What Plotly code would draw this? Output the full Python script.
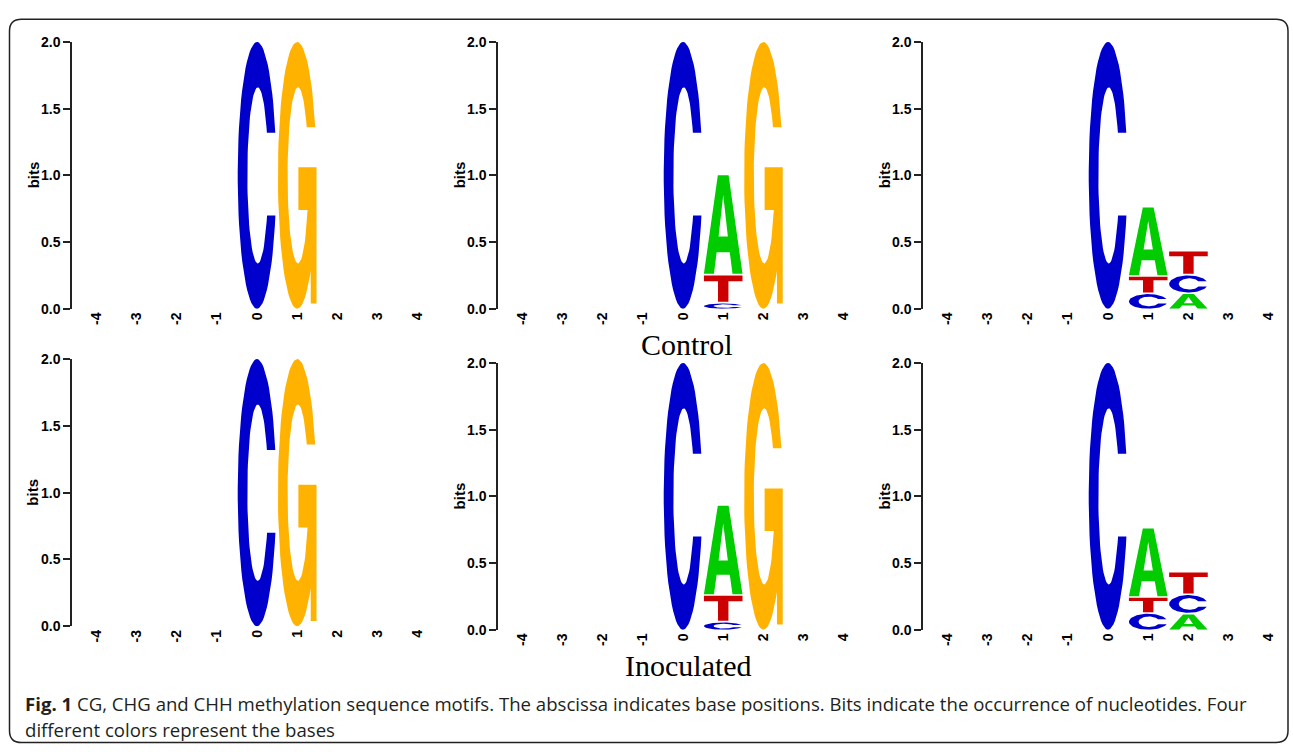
import numpy as np
import plotly.graph_objects as go

# ---------------- data ----------------
positions = [-4, -3, -2, -1, 0, 1, 2, 3, 4]
position_labels = [str(p) for p in positions]
motifs = ["CG", "CHG", "CHH"]
conditions = ["Control", "Inoculated"]
bit_ticks = [0.0, 0.5, 1.0, 1.5, 2.0]
bit_tick_labels = ["0.0", "0.5", "1.0", "1.5", "2.0"]

# stacks per position, bottom -> top: (base, bits)
cg_control = {0: [("C", 2.0)], 1: [("G", 2.0)]}
chg_control = {0: [("C", 2.0)],
               1: [("C", 0.04), ("T", 0.21), ("A", 0.75)],
               2: [("G", 2.0)]}
chh_control = {0: [("C", 2.0)],
               1: [("C", 0.11), ("T", 0.13), ("A", 0.52)],
               2: [("A", 0.11), ("C", 0.14), ("T", 0.18)]}
cg_inoculated = {0: [("C", 2.0)], 1: [("G", 2.0)]}
chg_inoculated = {0: [("C", 2.0)],
                  1: [("C", 0.055), ("T", 0.20), ("A", 0.675)],
                  2: [("G", 2.0)]}
chh_inoculated = {0: [("C", 2.0)],
                  1: [("C", 0.12), ("T", 0.12), ("A", 0.52)],
                  2: [("A", 0.115), ("C", 0.145), ("T", 0.17)]}

panels = [[cg_control, chg_control, chh_control],
          [cg_inoculated, chg_inoculated, chh_inoculated]]

base_colors = {"A": "#00CC00", "C": "#0000CC", "G": "#FFB300", "T": "#CC0000"}

# ---------------- glyph outlines (unit box) ----------------
def glyph_C(n=70, yhi=0.66, ylo=0.35):
    a0 = np.arcsin((yhi - 0.5) / 0.5)
    a1 = 2 * np.pi - np.arcsin((0.5 - ylo) / 0.5)
    t = np.linspace(a0, a1, n)
    ox, oy = 0.5 + 0.5 * np.cos(t), 0.5 + 0.5 * np.sin(t)
    b0 = -np.arcsin((0.5 - ylo) / 0.33)
    b1 = np.arcsin((yhi - 0.5) / 0.33) - 2 * np.pi
    s = np.linspace(b0, b1, n)
    ix, iy = 0.52 + 0.27 * np.cos(s), 0.5 + 0.33 * np.sin(s)
    return (np.concatenate([ox, ix, ox[:1]]), np.concatenate([oy, iy, oy[:1]]))


def glyph_G(n=70):
    yhi, bar_top, bar_bot, bar_left, stem_in = 0.68, 0.53, 0.37, 0.53, 0.85
    a0 = np.arcsin((yhi - 0.5) / 0.5)
    a1 = 2 * np.pi - np.arccos((stem_in - 0.5) / 0.5)
    t = np.linspace(a0, a1, n)
    ox, oy = 0.5 + 0.5 * np.cos(t), 0.5 + 0.5 * np.sin(t)
    mid_x = [stem_in, 1.0, 1.0, bar_left, bar_left]
    mid_y = [0.02, 0.02, bar_top, bar_top, bar_bot]
    b0 = -np.arcsin((0.5 - bar_bot) / 0.33)
    b1 = np.arcsin((yhi - 0.5) / 0.33) - 2 * np.pi
    s = np.linspace(b0, b1, n)
    ix, iy = 0.52 + 0.27 * np.cos(s), 0.5 + 0.33 * np.sin(s)
    return (np.concatenate([ox, mid_x, ix, ox[:1]]),
            np.concatenate([oy, mid_y, iy, oy[:1]]))


def glyph_T():
    xs = [0, 1, 1, 0.635, 0.635, 0.365, 0.365, 0, 0]
    ys = [1, 1, 0.78, 0.78, 0, 0, 0.78, 0.78, 1]
    return np.array(xs, float), np.array(ys, float)


def glyph_A():
    xs = [0, 0.36, 0.64, 1, 0.74, 0.67, 0.5, 0.5, 0.62, 0.5, 0.38, 0.5, 0.5, 0.33, 0.26, 0]
    ys = [0, 1, 1, 0, 0, 0.22, 0.22, 0.38, 0.38, 0.80, 0.38, 0.38, 0.22, 0.22, 0, 0]
    return np.array(xs, float), np.array(ys, float)


glyphs = {"A": glyph_A(), "C": glyph_C(), "G": glyph_G(), "T": glyph_T()}

LETTER_W = 0.96
STACK_GAP = 0.012

# ---------------- layout geometry (pixels) ----------------
FIG_W, FIG_H = 1293, 752
x_dom_px = [(72, 442), (498, 868), (923, 1293)]
y_dom_px = [[(34.7, 307.3), (34.7, 307.3), (34.7, 307.3)],
            [(358.7, 631.7), (362.7, 635.3), (362.7, 635.3)]]

def px_x(v):
    return v / FIG_W

def px_y(v):
    return 1 - v / FIG_H

fig = go.Figure()
layout = {}
annotations = []

idx = 0
for r in range(2):
    for c in range(3):
        idx += 1
        sfx = "" if idx == 1 else str(idx)
        xa, ya = "x" + sfx, "y" + sfx
        stacks = panels[r][c]
        per_base = {b: ([], []) for b in base_colors}
        for pos, stack in stacks.items():
            y0 = 0.0
            for k, (base, bits) in enumerate(stack):
                gx, gy = glyphs[base]
                bot = y0 + (STACK_GAP if k > 0 else 0.0)
                h = y0 + bits - bot
                X = pos - LETTER_W / 2 + gx * LETTER_W
                Y = bot + gy * h
                per_base[base][0].extend(list(X) + [None])
                per_base[base][1].extend(list(Y) + [None])
                y0 += bits
        for base, (X, Y) in per_base.items():
            if not X:
                continue
            fig.add_trace(go.Scatter(
                x=X, y=Y, mode="lines", fill="toself",
                fillcolor=base_colors[base], line=dict(width=0, color=base_colors[base]),
                xaxis=xa, yaxis=ya, showlegend=False, hoverinfo="skip"))
        xd = x_dom_px[c]
        yd = y_dom_px[r][c]
        layout["xaxis" + sfx] = dict(
            domain=[px_x(xd[0]), px_x(xd[1])], range=[-4.6, 4.6], anchor=ya,
            tickvals=positions, ticktext=position_labels, tickangle=-90,
            showline=False, showgrid=False, zeroline=False, ticks="",
            ticklabelstandoff=0,
            tickfont=dict(family="Liberation Sans, Arial", size=14, color="black", weight="bold"),
            fixedrange=True)
        layout["yaxis" + sfx] = dict(
            domain=[px_y(yd[1]), px_y(yd[0])], range=[0, 2], anchor=xa,
            showline=True, linecolor="#222", linewidth=1.5,
            ticks="outside", ticklen=7, tickwidth=1.5, tickcolor="#222",
            tickvals=bit_ticks, ticktext=bit_tick_labels,
            showgrid=False, zeroline=False,
            tickfont=dict(family="Liberation Sans, Arial", size=14, color="black", weight="bold"),
            fixedrange=True)
        annotations.append(dict(
            text="bits", xref=xa + " domain", yref=ya + " domain",
            x=-39 / 370, y=0.5, showarrow=False, textangle=-90,
            xanchor="center", yanchor="middle",
            font=dict(family="Liberation Sans, Arial", size=15, color="black", weight="bold")))

# condition titles
annotations.append(dict(text=conditions[0], xref="paper", yref="paper",
                        x=px_x(686.5), y=px_y(344), showarrow=False,
                        xanchor="center", yanchor="middle",
                        font=dict(family="Liberation Serif, Times New Roman", size=30, color="black")))
annotations.append(dict(text=conditions[1], xref="paper", yref="paper",
                        x=px_x(688), y=px_y(672), showarrow=False,
                        xanchor="center", yanchor="middle",
                        font=dict(family="Liberation Serif, Times New Roman", size=30, color="black")))

# caption
cap_font = dict(family="Open Sans", size=18.6, color="#231f20")
annotations.append(dict(
    text="<b>Fig. 1</b> CG, CHG and CHH methylation sequence motifs. The abscissa indicates base positions. "
         "Bits indicate the occurrence of nucleotides. Four",
    xref="paper", yref="paper", x=px_x(23), y=px_y(711), showarrow=False,
    xanchor="left", yanchor="middle", font=cap_font))
annotations.append(dict(
    text="different colors represent the bases",
    xref="paper", yref="paper", x=px_x(23), y=px_y(737), showarrow=False,
    xanchor="left", yanchor="middle", font=cap_font))

# rounded frame
fx0, fy0, fx1, fy1, rr = 9.5, 11.5, 1288.0, 750.5, 12.0
def P(x, y):
    return f"{px_x(x):.5f},{px_y(y):.5f}"
frame_path = (f"M {P(fx0 + rr, fy0)} L {P(fx1 - rr, fy0)} Q {P(fx1, fy0)} {P(fx1, fy0 + rr)} "
              f"L {P(fx1, fy1 - rr)} Q {P(fx1, fy1)} {P(fx1 - rr, fy1)} "
              f"L {P(fx0 + rr, fy1)} Q {P(fx0, fy1)} {P(fx0, fy1 - rr)} "
              f"L {P(fx0, fy0 + rr)} Q {P(fx0, fy0)} {P(fx0 + rr, fy0)} Z")

fig.update_layout(
    width=FIG_W, height=FIG_H,
    margin=dict(l=0, r=0, t=0, b=0),
    paper_bgcolor="white", plot_bgcolor="white",
    annotations=annotations,
    shapes=[dict(type="path", xref="paper", yref="paper", path=frame_path,
                 line=dict(color="#222", width=1.5), layer="below")],
    **layout)

page_fix = ("var gd=document.getElementById('{plot_id}');"
            "gd.style.position='fixed';gd.style.top='0px';gd.style.left='0px';"
            "document.body.style.margin='0';document.body.style.overflow='hidden';"
            "document.documentElement.style.overflow='hidden';")

fig.write_html("out.html", config={"displayModeBar": False}, post_script=page_fix)
